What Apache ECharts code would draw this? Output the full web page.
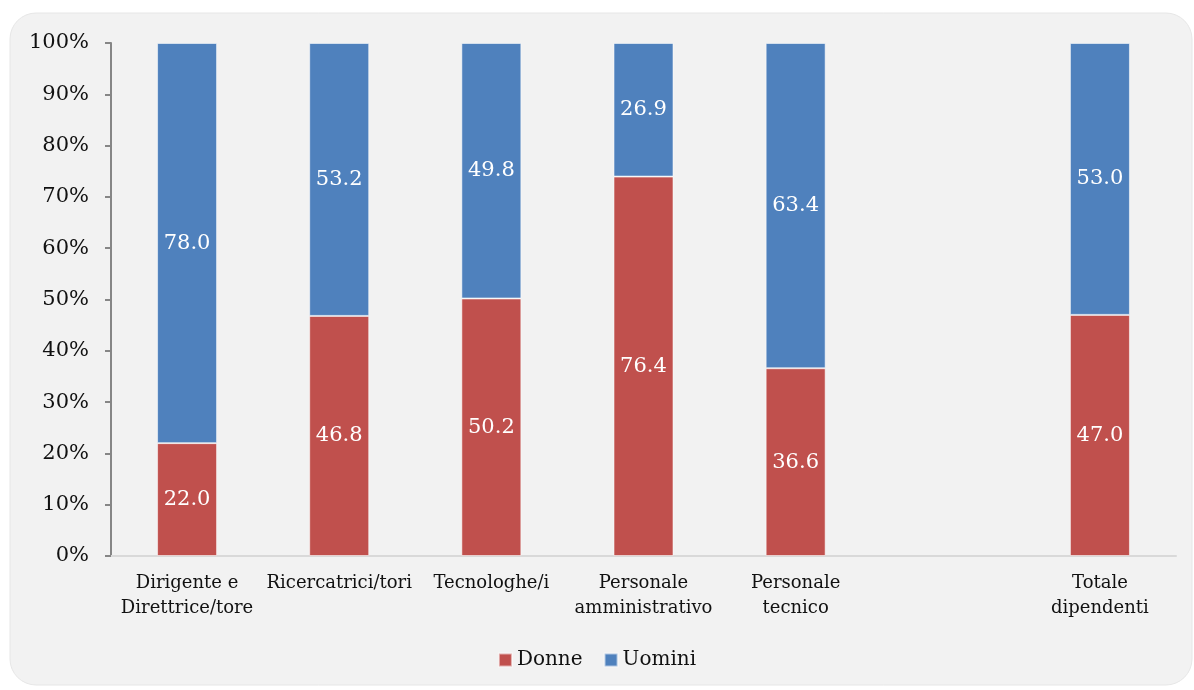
<!DOCTYPE html>
<html>
<head>
<meta charset="utf-8">
<script src="https://cdn.jsdelivr.net/npm/echarts@6/dist/echarts.min.js"></script>
<style>
  html, body { margin: 0; padding: 0; background: #ffffff; }
  #chart { width: 1194px; height: 690px; }
</style>
</head>
<body>
<div id="chart"></div>
<script>
// Staff by role and gender (percentage shares)
const categories = ['Dirigente e\nDirettrice/tore', 'Ricercatrici/tori', 'Tecnologhe/i',
  'Personale\namministrativo', 'Personale\ntecnico', '', 'Totale\ndipendenti'];
const donne  = [22.0, 46.8, 50.2, 76.4, 36.6, null, 47.0];
const uomini = [78.0, 53.2, 49.8, 26.9, 63.4, null, 53.0];
const yTicks = [0, 10, 20, 30, 40, 50, 60, 70, 80, 90, 100];

// 100% stacked: each column is scaled to its own total
const share = (arr) => arr.map((v, i) => {
  if (v == null) return null;
  const tot = donne[i] + uomini[i];
  return v / tot * 100;
});

const FONT = 'DejaVu Serif, Liberation Serif, serif';

const makeSeries = (name, raw, color) => ({
  name: name,
  type: 'bar',
  stack: 'tot',
  barWidth: 60,
  data: share(raw),
  itemStyle: { color: color, borderColor: 'rgba(255,255,255,0.55)', borderWidth: 1 },
  label: {
    show: true,
    position: 'inside',
    color: '#ffffff',
    fontFamily: FONT,
    fontSize: 21,
    formatter: (p) => raw[p.dataIndex] == null ? '' : raw[p.dataIndex].toFixed(1)
  }
});

const chart = echarts.init(document.getElementById('chart'));
chart.setOption({
  animation: false,
  graphic: [{
    type: 'rect',
    z: -10,
    shape: { x: 10, y: 13, width: 1182, height: 672, r: 26 },
    style: { fill: '#f2f2f2', stroke: '#e6e6e6', lineWidth: 1 }
  }],
  grid: { left: 111, right: 18, top: 43, bottom: 134 },
  legend: {
    bottom: 15,
    left: 'center',
    itemWidth: 13,
    itemHeight: 13,
    itemGap: 21,
    icon: 'rect',
    textStyle: { fontFamily: FONT, fontSize: 20, color: '#111111' },
    data: ['Donne', 'Uomini']
  },
  xAxis: {
    type: 'category',
    data: categories,
    axisLine: { lineStyle: { color: '#d9d9d9', width: 2 } },
    axisTick: { show: false },
    axisLabel: {
      interval: 0,
      margin: 15,
      color: '#111111',
      fontFamily: FONT,
      fontSize: 18,
      lineHeight: 25
    }
  },
  yAxis: {
    type: 'value',
    min: yTicks[0],
    max: yTicks[yTicks.length - 1],
    interval: 10,
    splitLine: { show: false },
    axisLine: { show: true, lineStyle: { color: '#868686', width: 2 } },
    axisTick: { show: true, length: 6, lineStyle: { color: '#868686', width: 2 } },
    axisLabel: {
      margin: 22,
      color: '#111111',
      fontFamily: FONT,
      fontSize: 21,
      formatter: '{value}%'
    }
  },
  series: [
    makeSeries('Donne', donne, '#c0504d'),
    makeSeries('Uomini', uomini, '#4f81bd')
  ]
});
</script>
</body>
</html>
